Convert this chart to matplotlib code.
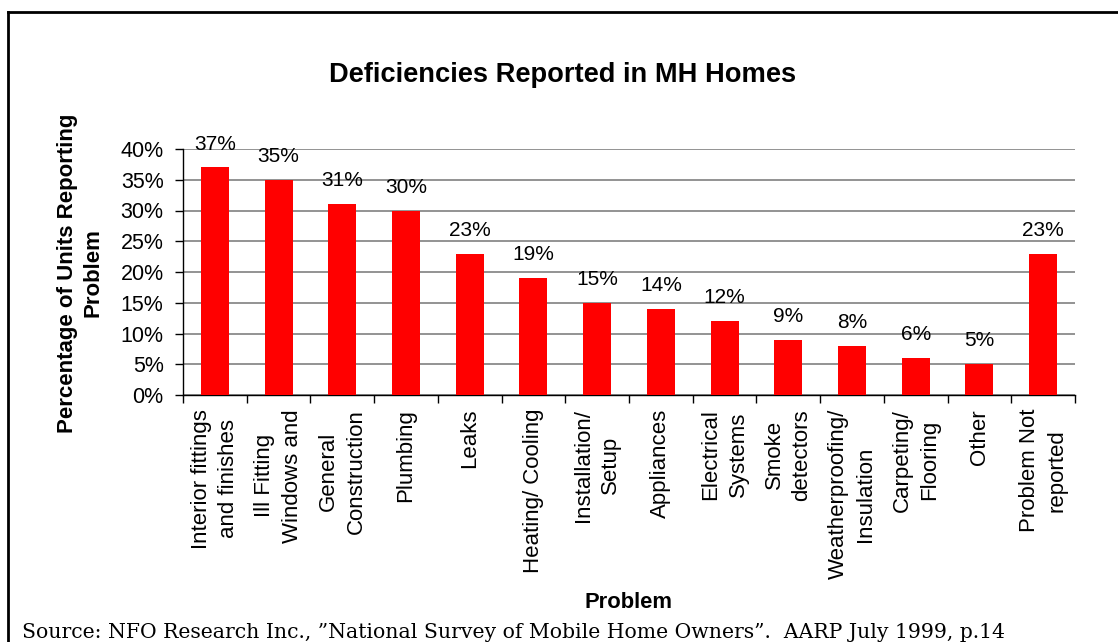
import numpy as np
import matplotlib
matplotlib.use("Agg")
import matplotlib.pyplot as plt
from matplotlib.lines import Line2D

plt.rcParams['font.family'] = ['Liberation Sans', 'DejaVu Sans']

# data
problems = ["Interior fittings\nand finishes", "Ill Fitting\nWindows and",
            "General\nConstruction", "Plumbing", "Leaks", "Heating/ Cooling",
            "Installation/\nSetup", "Appliances", "Electrical\nSystems",
            "Smoke\ndetectors", "Weatherproofing/\nInsulation",
            "Carpeting/\nFlooring", "Other", "Problem Not\nreported"]
pct = [37, 35, 31, 30, 23, 19, 15, 14, 12, 9, 8, 6, 5, 23]
yticks = [0, 5, 10, 15, 20, 25, 30, 35, 40]

W, H = 1118, 642
fig = plt.figure(figsize=(W / 100, H / 100), dpi=100)
ax = fig.add_axes([183 / W, 1 - 395 / H, (1075 - 183) / W, (395 - 149) / H])

x = np.arange(len(pct))
ax.bar(x, pct, width=0.44, color='#ff0000', zorder=3)

for xi, v in zip(x, pct):
    ax.annotate(f"{v}%", (xi, v), xytext=(0, 10), textcoords='offset points',
                ha='center', va='bottom', fontsize=15)

ax.set_xlim(-0.5, len(pct) - 0.5)
ax.set_ylim(0, 40)
ax.set_yticks(yticks)
ax.set_yticklabels([f"{t}%" for t in yticks], fontsize=15.5)
ax.yaxis.grid(True, color='#808080', lw=1.2, zorder=0)
ax.tick_params(axis='y', direction='out', length=6, width=1, pad=8)

ax.set_xticks(x)
ax.set_xticklabels(problems, rotation=90, fontsize=16, linespacing=1.4,
                   ha='center', va='top', multialignment='center')
ax.tick_params(axis='x', length=0, pad=10)
ax.set_xticks(np.arange(len(pct) + 1) - 0.5, minor=True)
ax.tick_params(axis='x', which='minor', length=6, width=1, direction='out')

for s in ['top', 'right']:
    ax.spines[s].set_visible(False)
for s in ['left', 'bottom']:
    ax.spines[s].set_linewidth(1)

fig.text(80 / W, 1 - 273 / H, "Percentage of Units Reporting\nProblem",
         rotation=90, ha='center', va='center', fontsize=16,
         fontweight='bold', linespacing=1.3, multialignment='center')

fig.text(563 / W, 1 - 75 / H, "Deficiencies Reported in MH Homes",
         ha='center', va='center', fontsize=19.6, fontweight='bold')
fig.text(629 / W, 1 - 603 / H, "Problem", ha='center', va='center',
         fontsize=15.8, fontweight='bold')
fig.text(22 / W, 1 - 632 / H,
         "Source: NFO Research Inc., \u201dNational Survey of Mobile Home Owners\u201d.  AARP July 1999, p.14",
         ha='left', va='center', fontsize=14.7, family='DejaVu Serif')

# frame around the figure
fig.add_artist(Line2D([8 / W, 8 / W], [0, 1 - 12 / H], color='black', lw=2))
fig.add_artist(Line2D([8 / W, 1], [1 - 12 / H, 1 - 12 / H], color='black', lw=2))

fig.savefig("out.png", dpi=100)
